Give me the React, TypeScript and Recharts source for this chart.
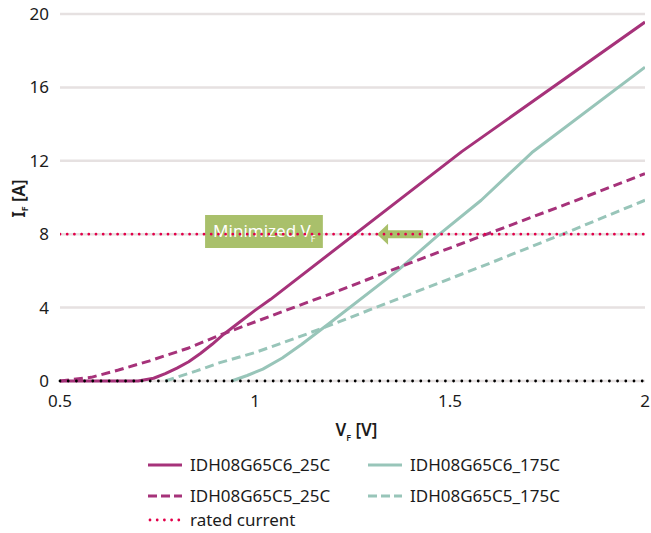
import React from 'react';
import { LineChart, Line, XAxis, YAxis, CartesianGrid, ReferenceLine, ReferenceArea } from 'recharts';

// forward voltage [V] / forward current [A]
const vfC6_25 = [0.5, 0.7, 0.74, 0.77, 0.8, 0.83, 0.86, 0.89, 0.92, 0.96, 1.0, 1.04, 1.53, 2.0];
const ifC6_25 = [0, 0, 0.15, 0.4, 0.7, 1.05, 1.5, 2.0, 2.55, 3.2, 3.85, 4.45, 12.5, 19.56];

const vfC6_175 = [0.94, 0.98, 1.02, 1.07, 1.12, 1.2, 1.37, 1.47, 1.58, 1.71, 2.0];
const ifC6_175 = [0, 0.3, 0.65, 1.25, 2.0, 3.3, 6.1, 7.95, 9.85, 12.45, 17.1];

const vfC5_25 = [0.5, 0.58, 0.65, 0.73, 0.83, 0.91, 1.06, 1.2, 1.4, 1.6, 1.8, 2.0];
const ifC5_25 = [0, 0.2, 0.6, 1.1, 1.8, 2.5, 3.7, 4.8, 6.45, 8.05, 9.65, 11.3];

const vfC5_175 = [0.77, 0.85, 0.91, 1.0, 1.1, 1.2, 1.4, 1.6, 1.8, 2.0];
const ifC5_175 = [0, 0.55, 1.0, 1.55, 2.3, 3.1, 4.75, 6.4, 8.1, 9.85];

const vfRated = [0.5, 2.0];
const ifRated = [8, 8];

const xTicks = [0.5, 1, 1.5, 2];
const yTicks = [0, 4, 8, 12, 16, 20];

const MAGENTA = '#a6327a';
const TEAL = '#98c5b9';
const RED = '#e2004a';
const GREEN = '#a9c06b';

const zip = (v: number[], i: number[]) => v.map((x, k) => ({ vf: x, if: i[k] }));

const series = [
  { name: 'IDH08G65C6_25C', data: zip(vfC6_25, ifC6_25), color: MAGENTA, dash: undefined as string | undefined, dotted: false },
  { name: 'IDH08G65C6_175C', data: zip(vfC6_175, ifC6_175), color: TEAL, dash: undefined, dotted: false },
  { name: 'IDH08G65C5_25C', data: zip(vfC5_25, ifC5_25), color: MAGENTA, dash: '9 5', dotted: false },
  { name: 'IDH08G65C5_175C', data: zip(vfC5_175, ifC5_175), color: TEAL, dash: '9 5', dotted: false },
  { name: 'rated current', data: zip(vfRated, ifRated), color: RED, dash: '0 7.2', dotted: true },
];

const FONT = "'Noto Sans', sans-serif";
const TEXT = '#1b1b1b';

const YTitle = (props: any) => {
  const vb = props.viewBox || { x: 0, y: 14, width: 60, height: 367 };
  const cx = 18;
  const cy = vb.y + vb.height / 2 + 1;
  return (
    <text
      x={cx}
      y={cy}
      transform={`rotate(-90, ${cx}, ${cy})`}
      textAnchor="middle"
      dominantBaseline="central"
      fontSize={17}
      fontWeight={600}
      fill={TEXT}
    >
      I<tspan dy={6} fontSize={9}>F</tspan>
      <tspan dy={-6}> [A]</tspan>
    </text>
  );
};

const XTitle = (props: any) => {
  const vb = props.viewBox || { x: 60, y: 381, width: 585, height: 69 };
  return (
    <text x={vb.x + vb.width / 2 + 4} y={436} textAnchor="middle" fontSize={17} fontWeight={600} fill={TEXT}>
      V<tspan dy={5} fontSize={9}>F</tspan>
      <tspan dy={-5}> [V]</tspan>
    </text>
  );
};

const Arrow = (props: any) => {
  const { x, y, width, height } = props;
  const cy = y + height / 2;
  const head = 11;
  return (
    <polygon
      fill={GREEN}
      points={[
        [x, cy],
        [x + head, cy - 10.5],
        [x + head, cy - 4],
        [x + width, cy - 4],
        [x + width, cy + 4],
        [x + head, cy + 4],
        [x + head, cy + 10.5],
      ]
        .map((p) => p.join(','))
        .join(' ')}
    />
  );
};

const BoxLabel = (props: any) => {
  const vb = props.viewBox;
  return (
    <text x={vb.x + 8} y={vb.y + vb.height / 2 + 6} fontSize={17} fill="#ffffff">
      Minimized V<tspan dy={5} fontSize={9}>F</tspan>
    </text>
  );
};

const LegendIcon = ({ color, dash, dotted }: { color: string; dash?: string; dotted: boolean }) => (
  <svg width={34} height={10} style={{ display: 'block' }}>
    <line
      x1={dotted ? 2 : 0}
      y1={5}
      x2={34}
      y2={5}
      stroke={color}
      strokeWidth={dotted ? 2.8 : 3}
      strokeDasharray={dotted ? '0 7.2' : dash ? '9 4' : undefined}
      strokeLinecap={dotted ? 'round' : 'butt'}
    />
  </svg>
);

const legendPos = [
  { left: 148, top: 465 },
  { left: 368, top: 465 },
  { left: 148, top: 496 },
  { left: 368, top: 496 },
  { left: 148, top: 520 },
];

export default function App() {
  return (
    <div style={{ position: 'absolute', left: 0, top: 0, width: 651, height: 533, fontFamily: FONT, background: '#fff', overflow: 'hidden' }}>
      <LineChart width={651} height={450} margin={{ top: 14, right: 6, left: 0, bottom: 0 }}>
        <CartesianGrid vertical={false} stroke="#e6e1e1" strokeWidth={2.5} />
        <XAxis
          type="number"
          dataKey="vf"
          domain={[0.5, 2]}
          ticks={xTicks}
          axisLine={false}
          tickLine={false}
          tickMargin={8}
          height={69}
          tick={{ fill: TEXT, fontSize: 17 }}
          label={XTitle}
          allowDataOverflow
        />
        <YAxis
          type="number"
          domain={[0, 20]}
          ticks={yTicks}
          axisLine={false}
          tickLine={false}
          tickMargin={5}
          width={60}
          tick={{ fill: TEXT, fontSize: 17 }}
          label={YTitle}
        />
        {series.map((s) => (
          <Line
            key={s.name}
            data={s.data}
            dataKey="if"
            name={s.name}
            type="linear"
            stroke={s.color}
            strokeWidth={s.dotted ? 2.8 : 3}
            strokeDasharray={s.dash}
            strokeLinecap={s.dotted ? 'round' : 'butt'}
            strokeLinejoin="round"
            dot={false}
            activeDot={false}
            isAnimationActive={false}
          />
        ))}
        <ReferenceLine y={0} stroke="#000" strokeWidth={2.8} strokeDasharray="0 8.2" strokeLinecap="round" />
        <ReferenceArea x1={0.872} x2={1.174} y1={7.25} y2={9.05} fill={GREEN} fillOpacity={1} stroke="none" label={BoxLabel} />
        <ReferenceArea x1={1.313} x2={1.431} y1={7.4} y2={8.6} shape={Arrow} />
      </LineChart>
      {series.map((s, k) => (
        <div
          key={s.name}
          style={{
            position: 'absolute',
            left: legendPos[k].left,
            top: legendPos[k].top - 11,
            height: 22,
            lineHeight: '22px',
            display: 'flex',
            alignItems: 'center',
            gap: 8,
            fontSize: 17,
            color: TEXT,
            whiteSpace: 'nowrap',
          }}
        >
          <LegendIcon color={s.color} dash={s.dash} dotted={s.dotted} />
          <span>{s.name}</span>
        </div>
      ))}
    </div>
  );
}
